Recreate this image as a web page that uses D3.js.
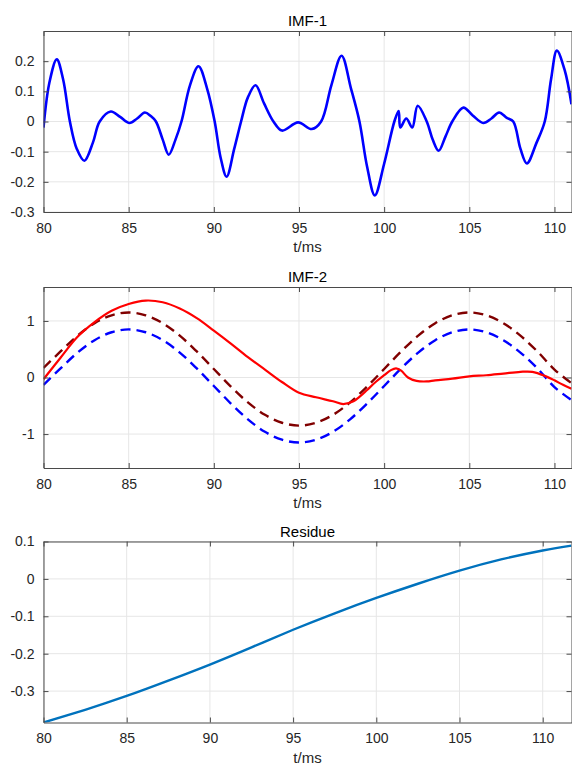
<!DOCTYPE html>
<html>
<head>
<meta charset="utf-8">
<script src="https://cdn.jsdelivr.net/npm/d3@7"></script>
<style>
  html, body { margin: 0; padding: 0; background: #fff; }
  svg { display: block; }
</style>
</head>
<body>
<svg id="fig" width="572" height="768"></svg>
<script>
// ---- IMF-1 (time in ms, amplitude) ----
const imf1Time = [80.0, 80.35, 80.78, 81.15, 81.55, 81.95, 82.4, 82.9, 83.3, 83.95, 84.5, 85.05, 85.5, 85.95, 86.3, 86.6,
  87.0, 87.35, 87.75, 88.1, 88.6, 89.1, 89.6, 90.05, 90.4, 90.75, 91.2, 91.6, 92.0, 92.45, 92.95, 93.5, 94.0, 94.95, 95.75,
  96.3, 96.9, 97.5, 98.05, 98.55, 99.0, 99.45, 100.0, 100.6, 100.85, 100.95, 101.3, 101.65, 101.97, 102.5, 102.85,
  103.2, 103.6, 104.0, 104.65, 105.2, 105.82, 106.3, 106.75, 107.2, 107.58, 108.0, 108.38, 108.95, 109.43, 109.8,
  110.14, 110.6, 111.0];
const imf1Value = [-0.02, 0.13, 0.206, 0.14, 0.0, -0.09, -0.13, -0.07, 0.0, 0.033, 0.015, -0.005, 0.01, 0.03, 0.018, 0.0,
  -0.06, -0.11, -0.06, 0.0, 0.12, 0.183, 0.11, 0.0, -0.12, -0.183, -0.09, 0.0, 0.08, 0.12, 0.06, 0.0, -0.03, -0.003, -0.025,
  0.0, 0.12, 0.218, 0.11, 0.0, -0.15, -0.245, -0.14, 0.0, 0.035, -0.02, 0.01, -0.02, 0.052, 0.0, -0.06,
  -0.097, -0.05, 0.0, 0.046, 0.02, -0.005, 0.01, 0.03, 0.012, 0.0, -0.09, -0.139, -0.07, 0.0, 0.14,
  0.235, 0.17, 0.057];

// ---- IMF-2 (solid red component) ----
const imf2Time = [80, 81, 82, 83, 84, 85, 86, 87, 88, 89, 90, 91, 92, 93, 94, 95, 96, 97, 97.6, 98.2, 98.6, 99, 99.5,
  100, 100.4, 100.7, 101.0, 101.4, 101.9, 102.5, 103, 104, 105, 106, 107, 108, 108.7, 109.5, 110, 110.5, 111];
const imf2Value = [-0.03, 0.35, 0.72, 0.98, 1.18, 1.3, 1.36, 1.33, 1.22, 1.05, 0.83, 0.6, 0.36, 0.14, -0.08, -0.27, -0.35, -0.42, -0.47, -0.42, -0.33, -0.22, -0.08,
  0.04, 0.13, 0.16, 0.12, 0.0, -0.06, -0.07, -0.05, -0.02, 0.02, 0.04, 0.07, 0.1, 0.1, 0.02, -0.05, -0.13, -0.2];

// ---- IMF-2 dashed reference curves, sampled every 1 ms ----
const refTime = [80, 81, 82, 83, 84, 85, 86, 87, 88, 89, 90, 91, 92, 93, 94, 95,
  96, 97, 98, 99, 100, 101, 102, 103, 104, 105, 106, 107, 108, 109, 110, 111];
const refUpper = [0.17, 0.46, 0.74, 0.96, 1.1, 1.15, 1.1, 0.96, 0.74, 0.46, 0.15, -0.16, -0.44, -0.66, -0.8, -0.85,
  -0.8, -0.66, -0.44, -0.16, 0.15, 0.46, 0.74, 0.96, 1.1, 1.15, 1.1, 0.96, 0.74, 0.46, 0.14, -0.1];
const refLower = [-0.13, 0.16, 0.44, 0.66, 0.8, 0.85, 0.8, 0.66, 0.44, 0.16, -0.15, -0.46, -0.74, -0.96, -1.1, -1.15,
  -1.1, -0.96, -0.74, -0.46, -0.15, 0.16, 0.44, 0.66, 0.8, 0.85, 0.8, 0.66, 0.44, 0.16, -0.17, -0.4];

// ---- Residue ----
const resTime = [80, 82.5, 85, 87.5, 90, 92.5, 95, 97.5, 100, 102.5, 105, 107.5, 110, 111.73];
const resValue = [-0.384, -0.35, -0.313, -0.272, -0.229, -0.183, -0.136, -0.092, -0.051, -0.013, 0.022, 0.052, 0.076, 0.089];

// ---- Tick labels ----
const xTicks = [80, 85, 90, 95, 100, 105, 110];
const imf1YTicks = [-0.3, -0.2, -0.1, 0, 0.1, 0.2];
const imf2YTicks = [-1, 0, 1];
const resYTicks = [-0.3, -0.2, -0.1, 0, 0.1];

const titles = ["IMF-1", "IMF-2", "Residue"];
const xLabel = "t/ms";

const svg = d3.select("#fig");
const FONT = '"Liberation Sans", Arial, Helvetica, sans-serif';
const plotLeft = 43.5, plotRight = 571.5, plotH = 181;
const AXIS = "#4a4a4a", TEXT = "#262626", GRID = "#e6e6e6";

function zip(ts, vs) { return ts.map((t, i) => [t, vs[i]]); }

function panel(idx, top, xDomain, yDomain, yTicks, series) {
  const x = d3.scaleLinear().domain(xDomain).range([plotLeft, plotRight]);
  const y = d3.scaleLinear().domain(yDomain).range([top + plotH, top]);
  const g = svg.append("g");

  // grid
  g.append("g").selectAll("line").data(xTicks).join("line")
    .attr("x1", d => x(d)).attr("x2", d => x(d)).attr("y1", top).attr("y2", top + plotH)
    .attr("stroke", GRID).attr("stroke-width", 1);
  g.append("g").selectAll("line").data(yTicks).join("line")
    .attr("x1", plotLeft).attr("x2", plotRight).attr("y1", d => y(d)).attr("y2", d => y(d))
    .attr("stroke", GRID).attr("stroke-width", 1);

  // clip for data lines
  const clipId = "clip" + idx;
  svg.append("clipPath").attr("id", clipId).append("rect")
    .attr("x", plotLeft).attr("y", top).attr("width", plotRight - plotLeft).attr("height", plotH);

  const lines = g.append("g").attr("clip-path", `url(#${clipId})`);
  series.forEach(s => {
    const line = d3.line().x(d => x(d[0])).y(d => y(d[1])).curve(s.curve || d3.curveCatmullRom.alpha(0.5));
    lines.append("path").datum(s.data)
      .attr("d", line)
      .attr("fill", "none")
      .attr("stroke", s.color)
      .attr("stroke-width", s.width)
      .attr("stroke-dasharray", s.dash || null)
      .attr("stroke-linejoin", "round");
  });

  // axes (ticks pointing inwards, box on all sides)
  const fmt = d => String(d);
  const bottom = g.append("g").attr("transform", `translate(0,${top + plotH})`)
    .call(d3.axisBottom(x).tickValues(xTicks).tickFormat(fmt).tickSizeInner(-5).tickSizeOuter(0).tickPadding(11));
  const left = g.append("g").attr("transform", `translate(${plotLeft},0)`)
    .call(d3.axisLeft(y).tickValues(yTicks).tickFormat(fmt).tickSizeInner(-5).tickSizeOuter(0).tickPadding(9));
  const topAx = g.append("g").attr("transform", `translate(0,${top})`)
    .call(d3.axisTop(x).tickValues(xTicks).tickFormat("").tickSizeInner(-5).tickSizeOuter(0));
  const rightAx = g.append("g").attr("transform", `translate(${plotRight},0)`)
    .call(d3.axisRight(y).tickValues(yTicks).tickFormat("").tickSizeInner(-5).tickSizeOuter(0));
  [bottom, left, topAx, rightAx].forEach(a => {
    a.select(".domain").attr("stroke", AXIS).attr("stroke-width", 1);
    a.selectAll(".tick line").attr("stroke", AXIS).attr("stroke-width", 1);
    a.selectAll(".tick text").attr("font-size", 14).attr("font-family", FONT).attr("fill", TEXT);
  });

  // title and x label
  g.append("text").attr("x", (plotLeft + plotRight) / 2).attr("y", top - 5)
    .attr("text-anchor", "middle").attr("font-family", FONT).attr("font-size", 15)
    .attr("fill", "#000").text(titles[idx]);
  g.append("text").attr("x", (plotLeft + plotRight) / 2).attr("y", top + plotH + 40)
    .attr("text-anchor", "middle").attr("font-family", FONT).attr("font-size", 15)
    .attr("fill", TEXT).text(xLabel);
}

panel(0, 31, [80, 111], [-0.3, 0.3], imf1YTicks, [
  { data: zip(imf1Time, imf1Value), color: "#0000ff", width: 2.6 }
]);
panel(1, 287, [80, 111], [-1.6, 1.6], imf2YTicks, [
  { data: zip(refTime, refUpper), color: "#800000", width: 2.4, dash: "10,6" },
  { data: zip(refTime, refLower), color: "#0000ff", width: 2.4, dash: "10,6" },
  { data: zip(imf2Time, imf2Value), color: "#ff0000", width: 2.2 }
]);
panel(2, 541.5, [80, 111.73], [-0.384, 0.1], resYTicks, [
  { data: zip(resTime, resValue), color: "#0072bd", width: 2.4, curve: d3.curveNatural }
]);
</script>
</body>
</html>
